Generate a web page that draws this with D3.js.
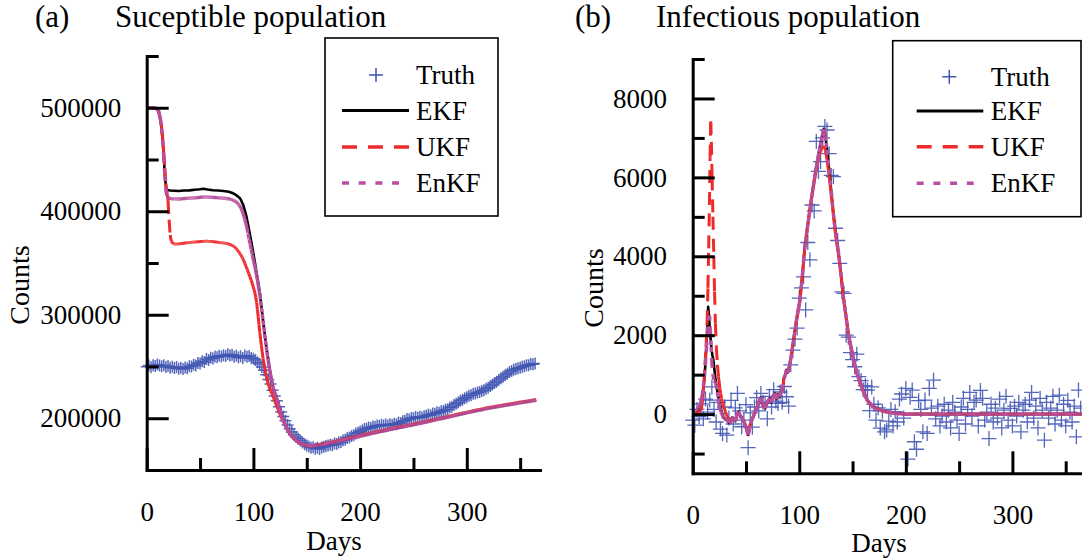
<!DOCTYPE html>
<html>
<head>
<meta charset="utf-8">
<script src="https://cdn.jsdelivr.net/npm/d3@7"></script>
<style>
  body { margin: 0; background: #fff; }
  svg text { font-family: "Liberation Serif", "Times New Roman", serif; fill: #000; }
</style>
</head>
<body>
<svg id="chart" width="1082" height="560"></svg>
<script>
// ---------- (a) susceptible population ----------
const truthDaysS = d3.range(0, 365, 2); // one observation every second day
const truthS = [
  249800,250900,249300,251200,250400,251900,251000,250200,251300,249600,
  250500,248900,249800,248600,249400,247900,248800,247600,249100,248300,
  250200,249900,251600,251000,253300,252800,255000,254400,257200,256300,
  258400,257700,259600,258900,260500,259700,260900,260200,261800,260600,
  261300,259500,260400,258600,259900,258300,260600,259400,260200,258100,
  257400,256300,254200,252500,249600,246300,242000,237500,233000,227000,
  221500,216800,211200,206000,201600,197500,193400,189800,186800,184000,
  182000,180200,178600,176500,175000,173600,172800,171500,172100,170600,
  171400,170300,171800,172400,173200,173600,174500,174000,175600,175200,
  176600,177100,178700,179300,180800,181500,182900,183600,185200,186000,
  187300,188100,189500,189800,191000,190600,192100,191700,193000,192600,
  193800,192900,194000,193100,194200,193400,194600,194100,195800,195300,
  197100,197600,199200,198800,200300,200000,201200,200500,201400,200800,
  201900,202300,203400,203000,204600,204300,205800,205200,206700,207100,
  208300,208800,210400,211000,212700,213900,215200,216800,217900,219400,
  220300,221800,222300,223600,223900,225000,225400,226300,227100,228600,
  229500,231200,232400,234100,235300,236900,238600,240100,241800,243000,
  244600,245700,246800,247500,248300,248900,249700,250200,251300,251100,
  252400,252100,253000
];

const ekfDaysS = [0,5,9,11,13,14,15,16,17,18,19,22,26,30,35,40,45,50,53,57,62,67,72,77,81,
  84,87.5,90.5,93.5,96.5,98.5,100,101.5,103,104.5,106,107.5,109,110.5,112,113.5,115,116.5,118,120,
  122,124,126,128,130,132,135,138,141,145,150,155,160,166,172,181,190,200,215,230,245,260,275,290,
  305,320,335,350,365];
const ekfS = [500000,500000,499500,497000,488000,480000,468000,452000,435000,424000,420500,420000,
  419800,419500,420000,420200,420800,421200,421700,421000,420300,420000,419600,418800,417300,415500,
  412500,406000,395000,379000,368000,359000,350000,340000,331000,321000,308000,295000,282000,270000,
  259000,249000,240000,232000,225000,219000,212000,205000,199000,193500,189000,184000,180500,178000,
  175500,173800,173500,174300,175300,176200,178300,180500,182800,186300,189700,192800,196000,199500,
  203000,206500,209700,212400,215000,217500];

const ukfDaysS = [0,5,9,11,12,13,14,15,16,17,18,19,20,21,22,23,25,28,32,36,40,45,50,55,60,65,70,75,
  79,82,85,87.5,90,92,94.5,96.8,99,101.5,103,104.5,106,107.5,109,111,113,115.5,118,121,124,127,130,
  134,138,142,146,150,155,160,166,172,181,190,200,215,230,245,260,275,290,305,320,335,350,365];
const ukfS = [500000,500000,499500,497500,494000,488000,480000,470000,457000,442000,427000,418000,
  410000,392000,377000,371000,368500,368200,368800,369300,369800,370300,370700,371000,370800,370300,
  369600,368800,367500,366000,362500,359000,354500,349600,343000,336700,330000,321000,312000,298000,
  283000,270000,258000,246000,236000,228000,222000,214000,206000,199000,193000,186000,180500,177000,
  174800,173500,173300,174300,175500,176700,178800,181000,183300,186900,190300,193400,196600,200100,
  203600,207100,210300,213000,215600,218100];

const enkfDaysS = [0,5,9,11,13,14,15,16,17,18,19,21,25,30,35,40,45,50,55,60,65,70,75,79,82,85,87.5,
  90,92,94,96,98,100,101.5,103,104.5,106,107.5,109,110.5,112,113.5,115,116.5,118,120,122,124,126,128,
  130,132,135,138,141,145,150,155,160,166,172,181,190,200,215,230,245,260,275,290,305,320,335,350,365];
const enkfS = [500000,500000,499500,497000,488000,480000,468000,452000,434000,420000,414000,412500,
  412000,411800,412300,412600,413000,413400,413800,413500,413200,412800,412300,411500,410200,408000,
  405000,399000,392000,384000,373000,363000,353000,346000,338000,329000,319500,307000,294500,281500,
  269500,258500,248500,239500,231500,224500,218500,211500,204500,198500,193000,188500,183500,180000,
  177600,175200,173600,173300,174100,175100,176000,178100,180300,182600,186100,189500,192600,195800,
  199300,202800,206300,209500,212200,214800,217300];

// ---------- (b) infectious population ----------
const truthDaysI = d3.range(0, 365, 2);
const truthI = [
  -150,-280,120,-60,260,-120,380,50,355,690,
  120,-200,300,-380,-490,180,-530,-100,350,-250,
  160,525,80,-320,-150,240,-850,30,-330,180,
  420,80,525,300,270,-120,450,180,620,330,
  270,560,300,700,440,200,1250,1620,1900,2180,
  2940,3200,3480,2640,4350,3910,5300,5150,6910,6150,
  6400,7000,7290,7200,6600,6050,6020,4710,4400,3820,
  3100,3060,2000,1950,1560,1380,1200,1520,950,850,
  620,720,610,90,690,250,-150,160,-355,80,
  -450,-400,-180,120,-300,60,-200,380,510,-100,
  650,-1140,425,610,-700,-890,340,120,-450,355,
  -490,650,150,860,-120,200,-300,-50,250,-200,
  100,-350,300,50,-150,-490,180,400,-250,120,
  550,-50,300,355,-300,600,400,-150,50,-620,
  250,-200,150,-100,380,-350,100,450,-150,145,
  -300,200,-50,300,-450,100,250,-200,355,550,
  -100,200,-350,400,100,-660,300,-100,150,450,
  -250,100,480,-150,250,-300,350,50,-200,200,
  -575,610,150
];

const enkfDaysI = [0,3,5,7,8,9,10,11,12,13,14,15,15.8,16.5,17.3,18,19,20,21,22,23,24,25.5,27,28.5,
  30,32,34,35.5,37,38.5,40,41.5,43,44.5,46,47.5,49,50.5,52,53,54,55.5,57,58.5,60,61.5,63,64,65,66.5,
  68,69.5,71,72.5,74,75.5,77,78.5,80,81.5,83,84.5,85.5,87,88,89,90.5,92,94,96,98,100.6,103,105,107.5,
  110,112.5,115,117.5,119.5,121.5,123,124.5,126,128,130,132,134,136.5,139,141,143.5,146,148.5,151,
  154,157.5,161,164,168,172,176,180,185,190,195,200,365];
const enkfI = [50,80,150,250,350,500,700,950,1300,1700,2100,2450,2500,2150,1700,1300,1000,850,820,
  750,560,400,150,20,-60,-120,-150,-220,-200,-90,-120,-180,-20,60,-40,-80,-150,-250,-380,-530,-420,
  -250,-150,-50,50,145,250,380,420,270,200,150,260,350,400,300,470,520,380,500,440,560,640,900,1000,
  1120,1050,1180,1400,1750,2150,2500,2890,3550,4200,4700,5180,5650,6110,6500,6780,7050,7230,7050,
  6700,6200,5650,5100,4600,4160,3600,3060,2550,2050,1700,1390,1050,775,530,350,230,160,110,70,45,20,
  10,0,0];

// EKF: own early transient, then on the EnKF track from day 34
const ekfEarlyDaysI = [0,5,8,10,11,12,13,13.8,14.5,15.3,16.2,17.3,18.4,19.4,20.5,21.5,22.5,24,25.6,
  27,28.7,30,32];
const ekfEarlyI = [0,80,250,600,900,1300,1800,2300,2720,2500,2100,1750,1500,1370,1100,850,690,450,
  270,80,-70,-120,-150];

// UKF: own early spike and own epidemic peak, EnKF track in between
const ukfEarlyDaysI = [0,4,6,8,9.5,10.5,11.5,12.5,13.5,14.3,15,15.7,16.3,16.9,17.5,18.2,19,19.8,20.5,
  21.3,22.2,23.2,24.2,25.5,27,28.5,30,31.5,33];
const ukfEarlyI = [0,20,50,100,400,800,1250,1700,2300,3200,4200,5300,6500,7420,6900,6000,5000,4000,
  3100,2300,1700,1250,950,650,400,250,120,0,-100];
const ukfPeakDaysI = [96,98,100.6,103,105,107.5,110,112.5,115,117.5,119.5,121.5,123,124.5,126,128,
  130,132,134,136.5,139,141,143.5,146,148.5,151,154,157.5,161,164,168,172,176,180,185,190,195,200,365];
const ukfPeakI = [2100,2450,2850,3550,4150,4700,5200,5650,6050,6400,6620,6760,6800,6700,6450,6050,
  5550,5050,4550,4100,3560,3040,2540,2050,1690,1370,1020,740,500,330,210,140,95,60,40,18,8,0,0];

const iStart = enkfDaysI.indexOf(34);
const iEnd = enkfDaysI.indexOf(96);
const ekfDaysI = ekfEarlyDaysI.concat(enkfDaysI.slice(iStart));
const ekfI = ekfEarlyI.concat(enkfI.slice(iStart));
const ukfDaysI = ukfEarlyDaysI.concat(enkfDaysI.slice(iStart, iEnd), ukfPeakDaysI);
const ukfI = ukfEarlyI.concat(enkfI.slice(iStart, iEnd), ukfPeakI);

const legendLabels = ['Truth', 'EKF', 'UKF', 'EnKF'];

// ---------- drawing ----------
const FONT = '"Liberation Serif", "Times New Roman", serif';
const COL = { truth: '#4156b2', ekf: '#000000', ukf: '#ee2a2a', enkf: '#b9509f' };
const svg = d3.select('#chart');

function plusPath(px, py, h) {
  return `M${px - h},${py}H${px + h}M${px},${py - h}V${py + h}`;
}

// the original renderer restarts the dash pattern at every daily step,
// so a segment is cut into day-long pieces before it gets its dashes
function dayPieces(days, vals, x, y) {
  const out = [];
  for (let i = 0; i < days.length - 1; i++) {
    const x0 = x(days[i]), y0 = y(vals[i]);
    const x1 = x(days[i + 1]), y1 = y(vals[i + 1]);
    const n = Math.max(1, Math.round(days[i + 1] - days[i]));
    for (let k = 0; k < n; k++) {
      out.push([x0 + (x1 - x0) * k / n, y0 + (y1 - y0) * k / n,
                x0 + (x1 - x0) * (k + 1) / n, y0 + (y1 - y0) * (k + 1) / n]);
    }
  }
  return out;
}

function styleAxis(g) {
  g.attr('font-family', null).attr('font-size', null);
  g.selectAll('line').attr('stroke', '#000').attr('stroke-width', 3);
  g.selectAll('.domain').attr('stroke', '#000').attr('stroke-width', 3)
    .attr('stroke-linecap', 'square');
  g.selectAll('text').attr('font-family', FONT).attr('font-size', 27).attr('fill', '#000');
}

function drawPanel(p) {
  const g = svg.append('g');
  const x = d3.scaleLinear().domain(p.xDomain).range(p.xRange);
  const y = d3.scaleLinear().domain(p.yDomain).range(p.yRange);

  g.append('clipPath').attr('id', p.id + '-clip')
    .append('rect')
    .attr('x', p.xRange[0] - 20).attr('y', 0)
    .attr('width', p.xRange[1] - p.xRange[0] + 20).attr('height', 560);

  const plot = g.append('g').attr('clip-path', `url(#${p.id}-clip)`);

  // truth markers
  plot.append('g').selectAll('path')
    .data(p.truthDays)
    .join('path')
    .attr('d', (d, i) => plusPath(x(d), y(p.truth[i]), p.plus))
    .attr('fill', 'none')
    .attr('stroke', COL.truth)
    .attr('stroke-width', p.plusW)
    .attr('stroke-opacity', 0.9);

  // EKF: solid
  const line = d3.line();
  plot.append('path')
    .attr('d', line(p.ekfDays.map((d, i) => [x(d), y(p.ekf[i])])))
    .attr('fill', 'none')
    .attr('stroke', COL.ekf)
    .attr('stroke-width', 2.6)
    .attr('stroke-linejoin', 'round');

  // UKF: dashed
  plot.append('g').selectAll('line')
    .data(dayPieces(p.ukfDays, p.ukf, x, y))
    .join('line')
    .attr('x1', d => d[0]).attr('y1', d => d[1])
    .attr('x2', d => d[2]).attr('y2', d => d[3])
    .attr('stroke', COL.ukf)
    .attr('stroke-width', 3)
    .attr('stroke-dasharray', '13 9');

  // EnKF: dotted
  plot.append('g').selectAll('line')
    .data(dayPieces(p.enkfDays, p.enkf, x, y))
    .join('line')
    .attr('x1', d => d[0]).attr('y1', d => d[1])
    .attr('x2', d => d[2]).attr('y2', d => d[3])
    .attr('stroke', COL.enkf)
    .attr('stroke-width', 3.4)
    .attr('stroke-dasharray', '5 6');

  // axes: ticks point into the plot
  const y0 = p.yDomain[0];
  g.append('g').attr('transform', `translate(${x(0)},0)`)
    .call(d3.axisLeft(y).tickValues(p.yMajor).tickSize(-22).tickSizeOuter(0)
      .tickPadding(p.yPad).tickFormat(d3.format('d')))
    .call(styleAxis);
  g.append('g').attr('transform', `translate(${x(0)},0)`)
    .call(d3.axisLeft(y).tickValues(p.yMinor).tickSize(-12).tickFormat(''))
    .call(a => a.select('.domain').remove())
    .call(styleAxis);
  g.append('g').attr('transform', `translate(0,${y(y0)})`)
    .call(d3.axisBottom(x).tickValues([0, 100, 200, 300]).tickSize(-22).tickSizeOuter(0)
      .tickPadding(32).tickFormat(d3.format('d')))
    .call(styleAxis);
  g.append('g').attr('transform', `translate(0,${y(y0)})`)
    .call(d3.axisBottom(x).tickValues([50, 150, 250, 350]).tickSize(-12).tickFormat(''))
    .call(a => a.select('.domain').remove())
    .call(styleAxis);

  // axis titles
  g.append('text')
    .attr('x', p.daysX).attr('y', p.daysY)
    .attr('text-anchor', 'middle').attr('font-size', 27)
    .text('Days');
  g.append('text')
    .attr('transform', `translate(${p.countsX},${p.countsY}) rotate(-90)`)
    .attr('text-anchor', 'middle').attr('font-size', 28)
    .text('Counts');

  // panel title
  g.append('text').attr('x', p.tagX).attr('y', 27).attr('font-size', 31).text(p.tag);
  g.append('text').attr('x', p.titleX).attr('y', 27).attr('font-size', 31).text(p.title);

  // legend
  const L = p.legend;
  const lg = g.append('g');
  lg.append('rect')
    .attr('x', L.x0).attr('y', L.y0)
    .attr('width', L.x1 - L.x0).attr('height', L.y1 - L.y0)
    .attr('fill', '#fff').attr('stroke', '#000').attr('stroke-width', 1.6);
  lg.append('path')
    .attr('d', plusPath(L.mark, L.rows[0], 7))
    .attr('stroke', COL.truth).attr('stroke-width', 1.5).attr('fill', 'none');
  lg.append('line')
    .attr('x1', L.l0).attr('x2', L.l1).attr('y1', L.rows[1]).attr('y2', L.rows[1])
    .attr('stroke', COL.ekf).attr('stroke-width', 3);
  lg.append('line')
    .attr('x1', L.l0).attr('x2', L.l1).attr('y1', L.rows[2]).attr('y2', L.rows[2])
    .attr('stroke', COL.ukf).attr('stroke-width', 3.5).attr('stroke-dasharray', '15 11');
  lg.append('line')
    .attr('x1', L.l0).attr('x2', L.l0 + 57).attr('y1', L.rows[3]).attr('y2', L.rows[3])
    .attr('stroke', COL.enkf).attr('stroke-width', 3.5).attr('stroke-dasharray', '7 9.7');
  lg.selectAll('text.lab')
    .data(legendLabels)
    .join('text')
    .attr('class', 'lab')
    .attr('x', L.text)
    .attr('y', (d, i) => L.rows[i] + 9)
    .attr('font-size', 27)
    .text(d => d);
}

drawPanel({
  id: 'a', tag: '(a)', title: 'Suceptible population', tagX: 35, titleX: 115,
  xDomain: [0, 368.6], xRange: [146.7, 540],
  yDomain: [150000, 550000], yRange: [470, 56],
  yMajor: [200000, 300000, 400000, 500000], yMinor: [250000, 350000, 450000, 550000], yPad: 25.5,
  plus: 6, plusW: 1.5,
  truthDays: truthDaysS, truth: truthS,
  ekfDays: ekfDaysS, ekf: ekfS, ukfDays: ukfDaysS, ukf: ukfS, enkfDays: enkfDaysS, enkf: enkfS,
  daysX: 334, daysY: 550, countsX: 29, countsY: 285,
  legend: { x0: 325, x1: 498, y0: 38, y1: 216, rows: [75, 110.5, 147, 183],
            l0: 342, l1: 409, mark: 376, text: 416 }
});

drawPanel({
  id: 'b', tag: '(b)', title: 'Infectious population', tagX: 575, titleX: 656,
  xDomain: [0, 365.3], xRange: [692.7, 1082],
  yDomain: [-1500, 9000], yRange: [473.3, 59],
  yMajor: [0, 2000, 4000, 6000, 8000], yMinor: [-1000, 1000, 3000, 5000, 7000, 9000], yPad: 25.7,
  plus: 7.5, plusW: 1.3,
  truthDays: truthDaysI, truth: truthI,
  ekfDays: ekfDaysI, ekf: ekfI, ukfDays: ukfDaysI, ukf: ukfI, enkfDays: enkfDaysI, enkf: enkfI,
  daysX: 879, daysY: 552, countsX: 603, countsY: 288,
  legend: { x0: 892.7, x1: 1081, y0: 40.7, y1: 216.7, rows: [76.7, 111, 146.7, 183.3],
            l0: 916.7, l1: 983.3, mark: 949.3, text: 990.7 }
});
</script>
</body>
</html>
